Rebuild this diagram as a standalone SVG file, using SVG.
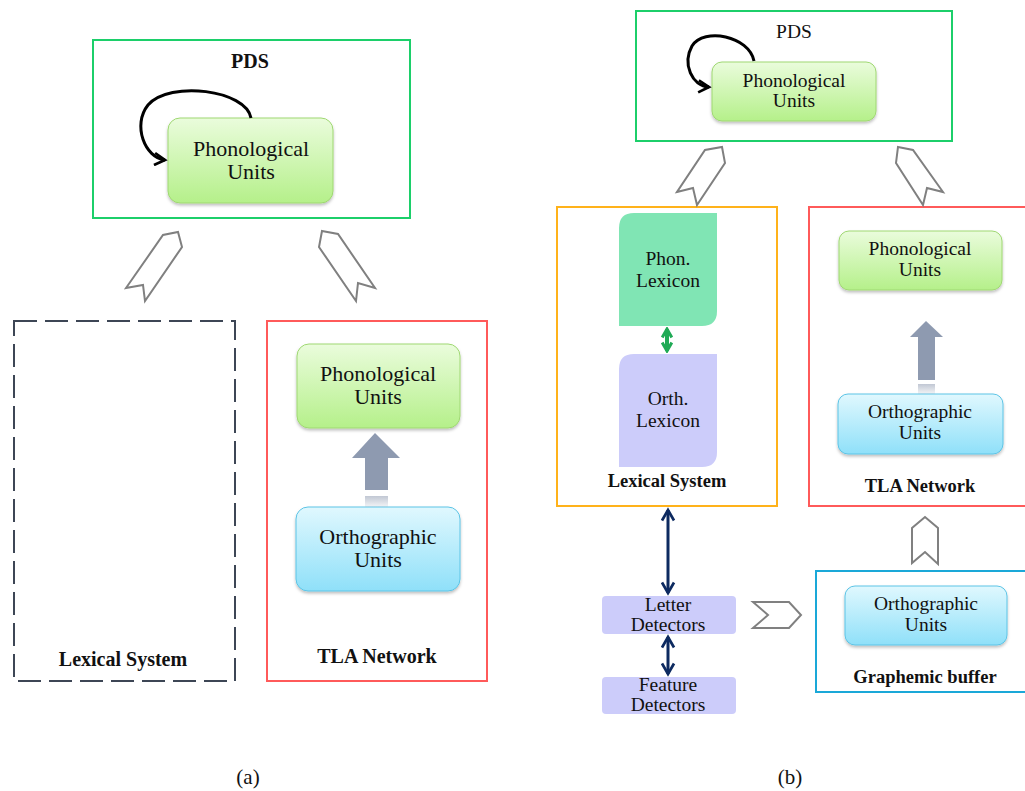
<svg xmlns="http://www.w3.org/2000/svg" width="1025" height="791" viewBox="0 0 1025 791">
  <defs>
    <linearGradient id="gPhon" x1="0" y1="0" x2="0" y2="1">
      <stop offset="0" stop-color="#eafcdc"/>
      <stop offset="1" stop-color="#b5f08a"/>
    </linearGradient>
    <linearGradient id="gOrth" x1="0" y1="0" x2="0" y2="1">
      <stop offset="0" stop-color="#e0f8fe"/>
      <stop offset="1" stop-color="#8fe0f9"/>
    </linearGradient>
    <linearGradient id="gFade" x1="0" y1="0" x2="0" y2="1">
      <stop offset="0" stop-color="#8e9ab0" stop-opacity="0.55"/>
      <stop offset="1" stop-color="#8e9ab0" stop-opacity="0.1"/>
    </linearGradient>
    <filter id="shadow" x="-10%" y="-10%" width="125%" height="130%">
      <feDropShadow dx="0" dy="2" stdDeviation="1.5" flood-color="#000" flood-opacity="0.25"/>
    </filter>
    <marker id="loopHead" viewBox="0 0 10 10" refX="8" refY="5" markerWidth="5" markerHeight="5" orient="auto" markerUnits="strokeWidth">
      <path d="M1,1 L8,5 L1,9" fill="none" stroke="#000" stroke-width="1.8"/>
    </marker>
    <marker id="navyHead" viewBox="0 0 10 10" refX="8" refY="5" markerWidth="5" markerHeight="5" orient="auto-start-reverse" markerUnits="strokeWidth">
      <path d="M1,1 L8,5 L1,9" fill="none" stroke="#0d2a60" stroke-width="1.8"/>
    </marker>
    <marker id="greenHead" viewBox="0 0 10 10" refX="8" refY="5" markerWidth="3" markerHeight="3" orient="auto-start-reverse" markerUnits="strokeWidth">
      <path d="M1,1 L8,5 L1,9" fill="none" stroke="#1faa55" stroke-width="2.5"/>
    </marker>
  </defs>
  <style>
    text { font-family: "Liberation Serif", "Times New Roman", serif; fill: #111; text-anchor: middle; }
    .na { font-size: 22px; }
    .nb { font-size: 19.5px; }
    .lab { font-weight: bold; font-size: 20px; }
    .labb { font-weight: bold; font-size: 18.5px; }
    .cap { font-size: 21px; }
    .frame { fill: #fff; stroke-width: 2; }
    .phon { fill: url(#gPhon); stroke: #9fd872; stroke-width: 1; filter: url(#shadow); }
    .orth { fill: url(#gOrth); stroke: #5cc4e6; stroke-width: 1; filter: url(#shadow); }
    .hollow { fill: #fff; stroke: #808080; stroke-width: 2; stroke-linejoin: miter; }
    .block { fill: #8e9ab0; }
    .lav { fill: #ccccfa; }
  </style>

  <rect width="1025" height="791" fill="#fff"/>

  <!-- ===== Panel (a) ===== -->
  <g id="a-pds">
    <rect class="frame" x="93" y="40" width="317" height="178" stroke="#1ccf6a"/>
    <text class="lab" x="250" y="68">PDS</text>
  </g>
  <g id="a-pds-phon">
    <rect class="phon" x="168" y="118" width="165" height="85" rx="12"/>
    <text class="na" x="251" y="156">Phonological</text>
    <text class="na" x="251" y="179">Units</text>
  </g>
  <g id="a-lexical">
    <rect x="14" y="321" width="221" height="360" fill="none" stroke="#3d4655" stroke-width="2" stroke-dasharray="23 8"/>
    <text class="lab" x="123" y="666">Lexical System</text>
  </g>
  <g id="a-tla">
    <rect class="frame" x="267" y="321" width="220" height="360" stroke="#ff5a5a"/>
    <text class="lab" x="377" y="663">TLA Network</text>
  </g>
  <g id="a-tla-phon">
    <rect class="phon" x="297" y="344" width="163" height="84" rx="12"/>
    <text class="na" x="378" y="381">Phonological</text>
    <text class="na" x="378" y="404">Units</text>
  </g>
  <g id="a-tla-orth">
    <rect class="orth" x="296" y="507" width="164" height="84" rx="12"/>
    <text class="na" x="378" y="544">Orthographic</text>
    <text class="na" x="378" y="567">Units</text>
  </g>

  <!-- ===== Panel (b) ===== -->
  <g id="b-pds">
    <rect class="frame" x="636" y="11" width="316" height="130" stroke="#1ccf6a"/>
    <text class="nb" x="794" y="38">PDS</text>
  </g>
  <g id="b-pds-phon">
    <rect class="phon" x="712" y="62" width="164" height="59" rx="10"/>
    <text class="nb" x="794" y="87">Phonological</text>
    <text class="nb" x="794" y="107">Units</text>
  </g>
  <g id="b-lexical">
    <rect class="frame" x="557" y="207" width="220" height="299" stroke="#ffb21a"/>
    <text class="labb" x="667" y="487">Lexical System</text>
  </g>
  <g id="b-phon-lexicon">
    <path d="M634,213 H717 V311 Q717,326 702,326 H619 V228 Q619,213 634,213 Z" fill="#80e5b4"/>
    <text class="nb" x="668" y="265">Phon.</text>
    <text class="nb" x="668" y="287">Lexicon</text>
  </g>
  <g id="b-orth-lexicon">
    <path d="M634,354 H717 V452 Q717,467 702,467 H619 V369 Q619,354 634,354 Z" class="lav"/>
    <text class="nb" x="668" y="405">Orth.</text>
    <text class="nb" x="668" y="427">Lexicon</text>
  </g>
  <g id="b-tla">
    <rect class="frame" x="809" y="207" width="230" height="299" stroke="#ff5a5a"/>
    <text class="labb" x="920" y="492">TLA Network</text>
  </g>
  <g id="b-tla-phon">
    <rect class="phon" x="839" y="231" width="163" height="59" rx="10"/>
    <text class="nb" x="920" y="255">Phonological</text>
    <text class="nb" x="920" y="276">Units</text>
  </g>
  <g id="b-tla-orth">
    <rect class="orth" x="838" y="394" width="165" height="60" rx="10"/>
    <text class="nb" x="920" y="418">Orthographic</text>
    <text class="nb" x="920" y="439">Units</text>
  </g>
  <g id="b-graphemic">
    <rect class="frame" x="816" y="571" width="220" height="121" stroke="#1aa8d8"/>
    <text class="labb" x="925" y="683">Graphemic buffer</text>
  </g>
  <g id="b-graph-orth">
    <rect class="orth" x="845" y="586" width="162" height="59" rx="10"/>
    <text class="nb" x="926" y="610">Orthographic</text>
    <text class="nb" x="926" y="631">Units</text>
  </g>
  <g id="b-letter">
    <rect class="lav" x="602" y="596" width="134" height="38" rx="4"/>
    <text class="nb" x="668" y="611">Letter</text>
    <text class="nb" x="668" y="631">Detectors</text>
  </g>
  <g id="b-feature">
    <rect class="lav" x="602" y="677" width="134" height="37" rx="4"/>
    <text class="nb" x="668" y="691">Feature</text>
    <text class="nb" x="668" y="711">Detectors</text>
  </g>

  <!-- ===== Connectors ===== -->
  <g id="connectors">
    <!-- self loops on PDS phonological units -->
    <path d="M251,118 C246,90 170,80 148,105 C132,125 145,158 165,160" fill="none" stroke="#000" stroke-width="3" marker-end="url(#loopHead)"/>
    <path d="M754,61 C749,36 704,27 692,46 C682,64 692,86 709,87" fill="none" stroke="#000" stroke-width="3" marker-end="url(#loopHead)"/>

    <!-- hollow block arrows into PDS (a) -->
    <polygon class="hollow" points="126,288 143,285 145,301 182,247 178,232 163,235"/>
    <polygon class="hollow" points="322,231 338,234 375,288 358,283 356,301 319,247"/>
    <!-- hollow block arrows into PDS (b) -->
    <polygon class="hollow" points="677,192 693,188 697,205 725,163 722,147 705,150"/>
    <polygon class="hollow" points="898,147 913,150 943,192 927,188 923,205 896,163"/>
    <!-- graphemic buffer up to TLA -->
    <polygon class="hollow" points="912,563 912,528 925,517 938,528 938,564 925,552"/>
    <!-- letter detectors to graphemic buffer -->
    <polygon class="hollow" points="753,602 789,602 801,615 789,628 753,628 768,615"/>

    <!-- orthographic to phonological, TLA (a) -->
    <polygon class="block" points="375,433 400,458 388,458 388,490 365,490 365,458 352,458"/>
    <rect x="365" y="496" width="23" height="11" fill="url(#gFade)"/>
    <!-- orthographic to phonological, TLA (b) -->
    <polygon class="block" points="926,321 943,337 935,337 935,380 918,380 918,337 910,337"/>
    <rect x="918" y="384" width="17" height="10" fill="url(#gFade)"/>

    <!-- lexicon link -->
    <line x1="667" y1="329" x2="667" y2="351" stroke="#1faa55" stroke-width="4" marker-start="url(#greenHead)" marker-end="url(#greenHead)"/>

    <!-- lexical system <-> letter detectors <-> feature detectors -->
    <line x1="668" y1="510" x2="668" y2="593" stroke="#0d2a60" stroke-width="3" marker-start="url(#navyHead)" marker-end="url(#navyHead)"/>
    <line x1="668" y1="637" x2="668" y2="674" stroke="#0d2a60" stroke-width="3" marker-start="url(#navyHead)" marker-end="url(#navyHead)"/>
  </g>

  <!-- panel captions -->
  <text class="cap" x="248" y="784">(a)</text>
  <text class="cap" x="790" y="784">(b)</text>
</svg>
